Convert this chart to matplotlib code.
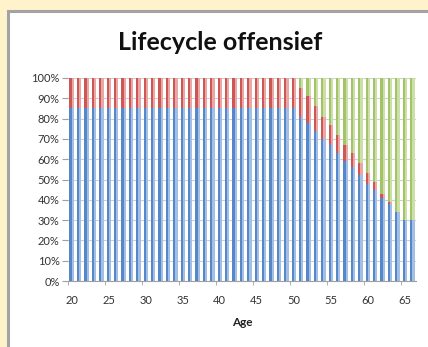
import matplotlib
matplotlib.use("Agg")
import matplotlib.pyplot as plt
from matplotlib.patches import Rectangle

# ages 20..66 and the share (%) per asset class
ages = list(range(20, 67))
blue = [85, 85, 85, 85, 85, 85, 85, 85, 85, 85,
        85, 85, 85, 85, 85, 85, 85, 85, 85, 85,
        85, 85, 85, 85, 85, 85, 85, 85, 85, 85,
        85, 81, 78, 74, 70, 67, 63, 59, 56, 52,
        48, 45, 41, 38, 34, 30, 30]
red = [15, 15, 15, 15, 15, 15, 15, 15, 15, 15,
       15, 15, 15, 15, 15, 15, 15, 15, 15, 15,
       15, 15, 15, 15, 15, 15, 15, 15, 15, 15,
       15, 14, 13, 12, 11, 10, 9, 8, 7, 6,
       5, 4, 2, 1, 0, 0, 0]
green = [100 - b - r for b, r in zip(blue, red)]

tick_ages = [20, 25, 30, 35, 40, 45, 50, 55, 60, 65]
y_ticks = [0, 10, 20, 30, 40, 50, 60, 70, 80, 90, 100]

W, H = 428, 347
fig = plt.figure(figsize=(W / 100, H / 100), dpi=100)
fig.patch.set_facecolor("#FFF3CC")

# white chart panel with gray frame, running off the right and bottom
panel = Rectangle((8 / W, -0.05), 1.1, (H - 11) / H + 0.05,
                  transform=fig.transFigure, facecolor="white",
                  edgecolor="#A3A3A3", linewidth=2.2, zorder=-1)
fig.patches.append(panel)

ax = fig.add_axes([68 / W, 66 / H, 348 / W, 203 / H])
ax.set_facecolor("none")

# excel-style gradient bars: light body with a darker left stripe
bw = 0.6
dark_w = 0.3
left = [a - bw / 2 for a in ages]
r_bottom = blue
g_bottom = [b + r for b, r in zip(blue, red)]
series = [
    (blue, [0] * len(ages), "#A3BFE6", "#5687C8"),
    (red, r_bottom, "#E9A8A6", "#CD5754"),
    (green, g_bottom, "#CBDFA6", "#A2C367"),
]
for vals, bottom, light, dark in series:
    ax.bar(left, vals, width=bw, bottom=bottom, align="edge", color=light, linewidth=0, zorder=2)
    ax.bar(left, vals, width=dark_w, bottom=bottom, align="edge", color=dark, linewidth=0, zorder=3)

ax.set_xlim(19.5, 66.5)
ax.set_ylim(0, 100)

ax.set_yticks(y_ticks)
ax.set_yticklabels([f"{v}%" for v in y_ticks])
ax.yaxis.grid(True, color="#CFCFCF", linewidth=0.8, zorder=0)
ax.set_axisbelow(True)

ax.set_xticks(tick_ages)
ax.set_xticklabels([str(a) for a in tick_ages])
ax.set_xticks([a - 0.5 for a in tick_ages], minor=True)
ax.tick_params(axis="x", which="major", length=0, pad=10)
ax.tick_params(axis="x", which="minor", length=3, color="#A0A0A0", direction="out")
ax.tick_params(axis="y", length=4, color="#A0A0A0", pad=2)
ax.tick_params(labelsize=8, labelcolor="#333333")
for lab in ax.get_xticklabels() + ax.get_yticklabels():
    lab.set_family("Lato")

for s in ["top", "right", "left"]:
    ax.spines[s].set_visible(False)
ax.spines["bottom"].set_color("#A0A0A0")
ax.spines["bottom"].set_linewidth(0.8)

ax.set_xlabel("Age", family="Lato", fontweight="bold", fontsize=8.5, color="#222222", labelpad=8)

fig.text(220 / W, (H - 42) / H, "Lifecycle offensief", family="Lato", fontweight="bold",
         fontsize=18, ha="center", va="center", color="#111111")

fig.savefig("out.png", dpi=100, facecolor=fig.get_facecolor())
